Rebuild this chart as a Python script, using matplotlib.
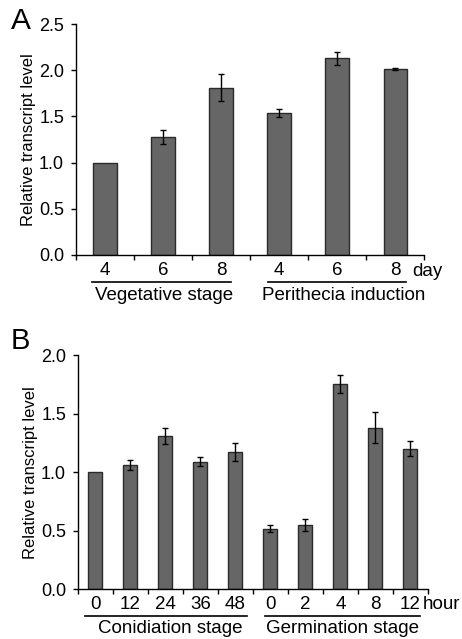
import matplotlib
matplotlib.use('Agg')
import matplotlib.pyplot as plt
from matplotlib.transforms import blended_transform_factory

plt.rcParams['font.family'] = ['Liberation Sans', 'DejaVu Sans']

# panel A - days
a_labels = ['4', '6', '8', '4', '6', '8']
a_values = [1.00, 1.28, 1.81, 1.54, 2.13, 2.01]
a_errors = [0.0, 0.075, 0.145, 0.043, 0.07, 0.01]
a_groups = ['Vegetative stage', 'Perithecia induction']

# panel B - hours
b_labels = ['0', '12', '24', '36', '48', '0', '2', '4', '8', '12']
b_values = [1.00, 1.065, 1.31, 1.09, 1.17, 0.518, 0.546, 1.75, 1.38, 1.20]
b_errors = [0.0, 0.043, 0.067, 0.038, 0.078, 0.027, 0.05, 0.078, 0.132, 0.064]
b_groups = ['Conidiation stage', 'Germination stage']

BAR_COLOR = '#666666'
EDGE_COLOR = '#2a2a2a'


def draw_panel(ax, labels, values, errors, ymax, unit, unit_x, unit_y, groups, lines, label_x, line_y, text_y):
    x = list(range(len(values)))
    ax.bar(x, values, width=0.4, color=BAR_COLOR, edgecolor=EDGE_COLOR, linewidth=1.0, zorder=2)
    # the reference sample (error 0) has no error bar
    ex = [i for i in x if errors[i] > 0]
    ax.errorbar(ex, [values[i] for i in ex], yerr=[errors[i] for i in ex], fmt='none',
                ecolor='k', elinewidth=1.0, capsize=2.0, capthick=1.0, zorder=3)

    ax.set_xlim(-0.5, len(values) - 0.5)
    ax.set_ylim(0, ymax)
    yt = [i * 0.5 for i in range(int(ymax / 0.5) + 1)]
    ax.set_yticks(yt)
    ax.set_yticklabels(['%.1f' % v for v in yt])
    ax.set_xticks([i - 0.5 for i in range(len(values) + 1)], minor=False)
    ax.set_xticklabels([])
    ax.set_xticks(x, minor=True)
    ax.set_xticklabels(labels, minor=True)
    ax.tick_params(axis='x', which='minor', length=0, labelsize=13.5, pad=5)
    ax.tick_params(axis='x', which='major', length=3.6, width=1.0, direction='out')
    ax.tick_params(axis='y', length=3.6, width=1.0, labelsize=13, pad=5)

    for side in ['top', 'right']:
        ax.spines[side].set_visible(False)
    for side in ['left', 'bottom']:
        ax.spines[side].set_linewidth(1.0)

    ax.set_ylabel('Relative transcript level', fontsize=12, labelpad=2)

    trans = blended_transform_factory(ax.transData, ax.transAxes)
    ax.text(unit_x, unit_y, unit, transform=trans, fontsize=13.5, ha='left', va='baseline')
    for (x0, x1), name, lx in zip(lines, groups, label_x):
        ax.plot([x0, x1], [line_y, line_y], color='k', lw=1.2, transform=trans, clip_on=False)
        ax.text(lx, text_y, name, transform=trans, fontsize=13.5, ha='center', va='center')


fig = plt.figure(figsize=(4.62, 6.39), dpi=100)

ax1 = fig.add_axes([0.1645, 0.601, 0.7535, 0.3614])
draw_panel(ax1, a_labels, a_values, a_errors, 2.5, 'day', 5.3, -0.091, a_groups,
           [(-0.22, 2.17), (2.81, 5.19)], [1.02, 4.12], -0.117, -0.175)

ax2 = fig.add_axes([0.1688, 0.0778, 0.7572, 0.3666])
draw_panel(ax2, b_labels, b_values, b_errors, 2.0, 'hour', 9.36, -0.085, b_groups,
           [(-0.3, 4.33), (4.84, 9.27)], [2.13, 7.07], -0.113, -0.167)

fig.text(0.024, 0.955, 'A', fontsize=21.5, ha='left', va='baseline')
fig.text(0.024, 0.454, 'B', fontsize=21, ha='left', va='baseline')

fig.savefig('out.png', dpi=100)
